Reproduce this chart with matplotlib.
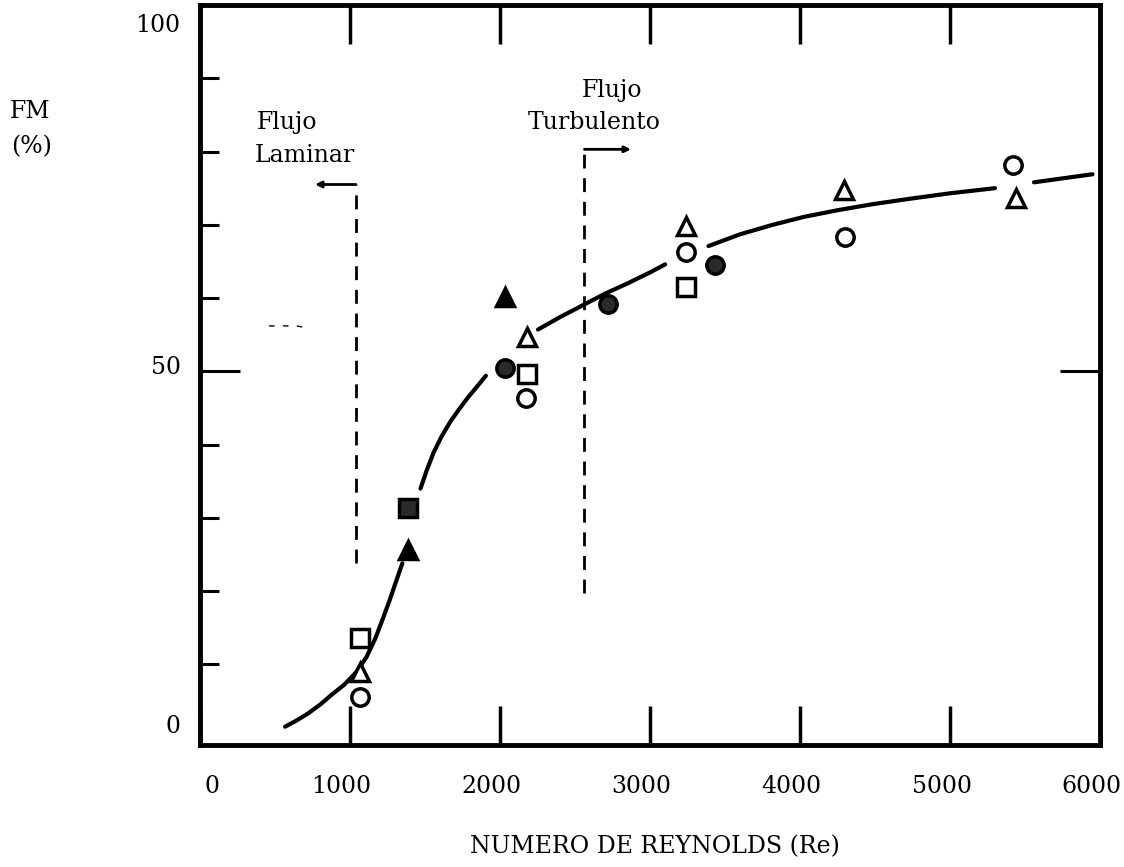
import numpy as np
import matplotlib
matplotlib.use("Agg")
import matplotlib.pyplot as plt

plt.rcParams['font.family'] = ['DejaVu Serif']
plt.rcParams['font.size'] = 17

circle_x = [1067, 2170, 3240, 4300, 5420]
circle_y = [5.6, 46.4, 66.3, 68.3, 78.1]
tri_x = [1067, 2180, 3240, 4290, 5440]
tri_y = [8.9, 54.7, 69.9, 74.7, 73.6]
square_x = [1067, 2180, 3240]
square_y = [13.6, 49.7, 61.5]
tri_fill_x = [1389, 2035]
tri_fill_y = [25.6, 60.2]
dot_circle_x = [2030, 2720, 3430]
dot_circle_y = [50.4, 59.2, 64.5]
dot_square_x = [1389]
dot_square_y = [31.4]

# hand drawn fit curve (nan = gap where the line stops near markers)
curve_x = [567, 640, 720, 800, 880, 960, 1040, 1110, 1170, 1220, 1265, 1305, 1349, np.nan,
           1470, 1510, 1557, 1610, 1671, 1730, 1785, 1850, 1906, np.nan,
           2253, 2400, 2550, 2700, 2850, 3000, 3101, np.nan,
           3390, 3600, 3818, 4030, 4253, 4480, 4713, 5000, 5300, np.nan,
           5560, 5950]
curve_y = [1.5, 2.3, 3.3, 4.5, 5.9, 7.2, 8.9, 11.0, 13.6, 16.3, 18.8, 21.2, 23.8, np.nan,
           34.0, 36.4, 38.9, 41.1, 43.2, 44.9, 46.4, 48.0, 49.4, np.nan,
           55.7, 57.4, 59.0, 60.6, 62.0, 63.5, 64.6, np.nan,
           67.1, 68.7, 70.0, 71.1, 72.0, 72.8, 73.5, 74.3, 75.0, np.nan,
           75.8, 76.9]

# regime limits
laminar_re = 1040
laminar_y = [23.8, 75.5]
turb_re = 2563
turb_y = [19.7, 80.3]

xticks = [0, 1000, 2000, 3000, 4000, 5000, 6000]
ylabels = [0, 50, 100]

fig = plt.figure(figsize=(11.24, 8.67), dpi=100)
ax = fig.add_axes([200/1124, 1 - 745/867, 900/1124, 740/867])

ax.plot(curve_x, curve_y, color='black', lw=3, solid_capstyle='round',
        solid_joinstyle='round', zorder=2)

mk = dict(ms=12.5, mew=2.5, ls='none', zorder=3, mec='black')
ax.plot(circle_x, circle_y, marker='o', mfc='white', **mk)
ax.plot(tri_x, tri_y, marker='^', mfc='white', **mk)
ax.plot(square_x, square_y, marker='s', mfc='white', **mk)
ax.plot(tri_fill_x, tri_fill_y, marker='^', mfc='black', **mk)
ax.plot(dot_circle_x, dot_circle_y, marker='o', mfc='#2a2a2a', **mk)
ax.plot(dot_square_x, dot_square_y, marker='s', mfc='#2a2a2a', **mk)

# dashed regime lines with small arrows
dash = dict(color='black', lw=2, ls=(0, (5, 3.5)))
ax.plot([laminar_re, laminar_re], laminar_y, **dash)
ax.annotate('', xy=(767, laminar_y[1]), xytext=(laminar_re, laminar_y[1]),
            arrowprops=dict(arrowstyle='-|>', lw=2, color='black',
                            mutation_scale=9, shrinkA=0, shrinkB=0))
ax.plot([turb_re, turb_re], turb_y, **dash)
ax.annotate('', xy=(2873, turb_y[1]), xytext=(turb_re, turb_y[1]),
            arrowprops=dict(arrowstyle='-|>', lw=2, color='black',
                            mutation_scale=9, shrinkA=0, shrinkB=0))
ax.plot([460, 560, 640, 700], [56.2, 56.2, 56.2, 56.0], color='black', lw=1,
        ls=(0, (4, 6)))

ax.text(380, 84, 'Flujo', ha='left', va='center')
ax.text(367, 79.5, 'Laminar', ha='left', va='center')
ax.text(2544, 88.3, 'Flujo', ha='left', va='center')
ax.text(2184, 84, 'Turbulento', ha='left', va='center')

ax.set_xlim(0, 6000)
ax.set_ylim(-1, 100)
for s in ax.spines.values():
    s.set_linewidth(3.5)

ax.set_xticks(xticks)
ax.tick_params(axis='x', direction='in', length=28, width=2.5, top=True,
               labelbottom=False)
ax.set_yticks([50])
ax.set_yticks(np.arange(10, 100, 10), minor=True)
ax.tick_params(axis='y', which='major', direction='in', length=29, width=2.2,
               right=True, labelleft=False)
ax.tick_params(axis='y', which='minor', direction='in', length=14, width=2.2,
               right=False)
ax.tick_params(axis='x', which='minor', bottom=False, top=False)

# tick labels sit a bit off their ticks in the original
for v in xticks:
    dx = 9 if v == 0 else -6
    ax.annotate(str(v), xy=(v, 0), xycoords=('data', 'axes fraction'),
                xytext=(dx, -30), textcoords='offset points',
                ha='center', va='center')
offsets = {0: 8, 50: 3, 100: -15}
for v in ylabels:
    ax.annotate(str(v), xy=(0, v), xycoords=('axes fraction', 'data'),
                xytext=(-14, offsets[v]), textcoords='offset points',
                ha='right', va='center')

fig.text(655/1124, 1 - 847/867, 'NUMERO DE REYNOLDS (Re)', ha='center',
         va='center')
fig.text(30/1124, 1 - 112/867, 'FM', ha='center', va='center')
fig.text(32/1124, 1 - 147/867, '(%)', ha='center', va='center')

fig.savefig('out.png', dpi=100)
